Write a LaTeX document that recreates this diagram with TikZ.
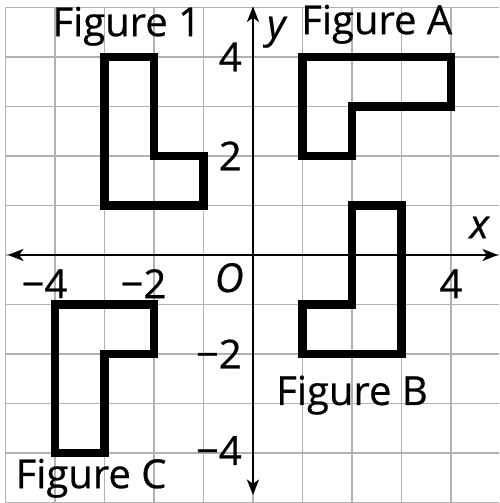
\documentclass[tikz,border=0pt]{standalone}
\usepackage{fontspec}
\setmainfont{Open Sans}[UprightFeatures={FakeBold=0.6},ItalicFeatures={FakeBold=0.6}]
\usetikzlibrary{arrows.meta}
\begin{document}
\begin{tikzpicture}[x=1cm,y=1cm,
  gridline/.style={draw=black!30, line width=0.8pt},
  axisline/.style={line width=0.8pt, {Stealth[length=9pt,width=7pt,inset=2.5pt]}-{Stealth[length=9pt,width=7pt,inset=2.5pt]}},
  figshape/.style={line width=4.8pt, line join=miter},
  lbl/.style={font=\fontsize{23}{27}\selectfont, inner sep=0pt},
  figlabel/.style={lbl, anchor=base},
  ticklabel/.style={lbl},
]
\useasboundingbox (-5.11,-5.01) rectangle (4.97,5.15);
\fill[white] (-5.11,-5.01) rectangle (4.97,5.15);
\begin{scope}
  \clip (-5.11,-5.01) rectangle (4.97,5.15);
  \draw[gridline] (-5,-5.2) grid (5.2,5);
\end{scope}
% axes
\coordinate (xl) at (-4.95,0);
\coordinate (xr) at (4.95,0);
\coordinate (yt) at (0,5.02);
\coordinate (yb) at (0,-4.85);
\draw[axisline] (xl) -- (xr);
\draw[axisline] (yb) -- (yt);
% figures
\draw[figshape] (-3,4) -- (-2,4) -- (-2,2) -- (-1,2) -- (-1,1) -- (-3,1) -- cycle;
\draw[figshape] (1,4) -- (4,4) -- (4,3) -- (2,3) -- (2,2) -- (1,2) -- cycle;
\draw[figshape] (2,1) -- (3,1) -- (3,-2) -- (1,-2) -- (1,-1) -- (2,-1) -- cycle;
\draw[figshape] (-4,-1) -- (-2,-1) -- (-2,-2) -- (-3,-2) -- (-3,-4) -- (-4,-4) -- cycle;
% tick labels
\node[ticklabel] (xm4) at (-3.98,-0.58) {\llap{−}4};
\node[ticklabel] (xm2) at (-1.98,-0.58) {\llap{−}2};
\node[ticklabel] (xp4) at (4,-0.58) {4};
\node[ticklabel] (orig) at (-0.48,-0.46) {\itshape O};
\node[ticklabel, anchor=east] (yp4) at (-0.22,4) {4};
\node[ticklabel, anchor=east] (yp2) at (-0.22,2) {2};
\node[ticklabel, anchor=east] (ym2) at (-0.22,-2) {−2};
\node[ticklabel, anchor=east] (ym4) at (-0.22,-3.95) {−4};
\node[figlabel] (xlab) at (4.57,0.34) {\itshape x};
\node[figlabel] (ylab) at (0.47,4.38) {\itshape y};
% figure labels
\node[figlabel] (f1) at (-2.55,4.42) {Figure 1};
\node[figlabel] (fa) at (2.5,4.46) {Figure A};
\node[figlabel] (fb) at (2.0,-3.03) {Figure B};
\node[figlabel] (fc) at (-3.27,-4.71) {Figure C};
\end{tikzpicture}
\end{document}
